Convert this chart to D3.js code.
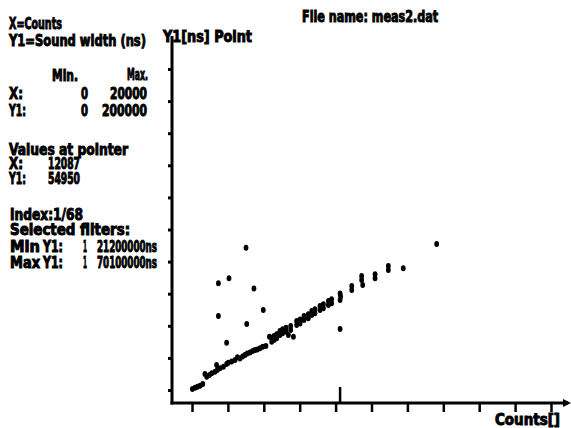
<!DOCTYPE html>
<html>
<head>
<meta charset="utf-8">
<script src="https://cdn.jsdelivr.net/npm/d3@7"></script>
<style>
  body { margin: 0; background: #fff; }
  text { font-family: "DejaVu Sans Condensed", "DejaVu Sans", sans-serif; font-weight: bold; fill: #000; stroke: #000; stroke-width: 0.9px; }
</style>
</head>
<body>
<div id="chart"></div>
<script>
// measured points: counts vs sound width (ns)
var counts = [20, 170, 300, 450, 600, 720, 820, 970, 1100, 1280, 1370, 1410, 1560, 1750, 1930, 2020,
  2210, 2400, 2530, 2670, 2820, 2950, 3080, 3230, 3380, 3510, 3640, 3790, 3940, 4120, 4310, 4440,
  4570, 4720, 4900, 5050, 5240, 5370, 5500, 5650, 5830, 6020, 6240, 6480, 6670, 6850, 7130, 7320,
  7600, 7780, 8250, 8280, 8900, 9450, 9510, 10200, 10940, 11770, 13630,
  4440, 4570, 4720, 4900, 5050, 5240, 5500, 5830, 6020, 6240, 6480, 6670, 6850, 7130, 7320, 7600,
  7780, 8250, 8900, 9450, 10200, 10940,
  1470, 2060, 3010, 3450, 1470, 3970, 3050, 1930, 8250];
var width = [600, 1450, 2100, 2700, 3700, 10000, 8300, 9300, 10400, 11400, 15600, 12500, 13500, 14500, 16200, 17000,
  17700, 18700, 20400, 19700, 20800, 21800, 22800, 23300, 24300, 24900, 25300, 26000, 27000, 27400, 33200, 30100,
  31200, 32200, 34300, 35300, 36300, 34300, 37400, 33200, 40500, 41500, 43600, 44700, 46700, 47800, 49800, 50900,
  53000, 54000, 56100, 58200, 62300, 68500, 65400, 69600, 74800, 75800, 91000,
  32600, 33700, 34700, 36800, 37800, 38800, 39900, 43000, 44000, 46100, 47200, 49200, 50300, 52300, 53400, 55500,
  56500, 60200, 64800, 71000, 72100, 77300,
  66500, 69600, 88700, 63300, 46100, 49800, 41100, 29500, 38000];
var xTicks = [0, 2000, 4000, 6000, 8000, 10000, 12000, 14000, 16000, 18000, 20000];
var yTicks = [0, 20000, 40000, 60000, 80000, 100000, 120000, 140000, 160000, 180000, 200000];
var pointerX = 8250;

// info panel lines: [text, x, baseline, width]
var infoLines = [
  ["X=Counts", 9, 29, 53],
  ["Y1=Sound width (ns)", 9, 46, 137],
  ["Min.", 52, 81, 26],
  ["Max.", 127, 80, 21],
  ["X:", 9, 99, 14],
  ["0", 81, 99, 7],
  ["20000", 110, 99, 37],
  ["Y1:", 9, 116, 17],
  ["0", 81, 116, 7],
  ["200000", 102, 116, 45],
  ["Values at pointer", 9, 155, 119],
  ["X:", 9, 169, 14],
  ["12087", 48, 169, 32],
  ["Y1:", 9, 184, 17],
  ["54950", 48, 184, 32],
  ["Index:1/68", 10, 220, 73],
  ["Selected filters:", 10, 235, 120],
  ["Min", 10, 252, 30],
  ["Y1:", 43, 252, 20],
  ["1", 83, 252, 4],
  ["21200000ns", 97, 252, 60],
  ["Max", 10, 268, 30],
  ["Y1:", 43, 268, 20],
  ["1", 83, 268, 4],
  ["70100000ns", 97, 268, 60],
  ["Y1[ns] Point", 163, 42, 89],
  ["File name: meas2.dat", 302, 22, 136],
  ["Counts[]", 495, 425, 65]
];

var W = 571, H = 428;
var svg = d3.select("#chart").append("svg")
  .attr("width", W)
  .attr("height", H);

var x = d3.scaleLinear().domain([0, 20000]).range([192, 551]);
var y = d3.scaleLinear().domain([0, 200000]).range([390, 69]);

var axisY0 = 403, axisX0 = 172;

// x axis ticks (no labels)
svg.append("g")
  .attr("transform", "translate(0," + axisY0 + ")")
  .call(d3.axisBottom(x).tickValues(xTicks).tickSize(9).tickSizeOuter(0).tickFormat(""))
  .call(function(g) {
    g.select(".domain").remove();
    g.selectAll(".tick line").attr("stroke", "#000").attr("stroke-width", 2.5);
  });

// y axis ticks
svg.append("g")
  .attr("transform", "translate(" + axisX0 + ",0)")
  .call(d3.axisLeft(y).tickValues(yTicks).tickSize(4).tickSizeOuter(0).tickFormat(""))
  .call(function(g) {
    g.select(".domain").remove();
    g.selectAll(".tick line").attr("stroke", "#000").attr("stroke-width", 3);
  });

// axis lines
svg.append("line")
  .attr("x1", axisX0).attr("y1", 36)
  .attr("x2", axisX0).attr("y2", axisY0 + 1.5)
  .attr("stroke", "#000").attr("stroke-width", 3);
svg.append("line")
  .attr("x1", axisX0 - 1.5).attr("y1", axisY0)
  .attr("x2", 568).attr("y2", axisY0)
  .attr("stroke", "#000").attr("stroke-width", 3);
svg.append("path")
  .attr("d", "M563,399 L571,403 L563,407 Z")
  .attr("fill", "#000");

// pointer mark
svg.append("line")
  .attr("x1", x(pointerX)).attr("y1", axisY0 - 16)
  .attr("x2", x(pointerX)).attr("y2", axisY0)
  .attr("stroke", "#000").attr("stroke-width", 2.5);

// points
svg.append("g").selectAll("ellipse")
  .data(d3.range(counts.length))
  .join("ellipse")
  .attr("cx", function(i) { return x(counts[i]); })
  .attr("cy", function(i) { return y(width[i]); })
  .attr("rx", 2.4)
  .attr("ry", 3)
  .attr("fill", "#000");

// texts
svg.append("g").selectAll("text")
  .data(infoLines)
  .join("text")
  .attr("x", function(d) { return d[1]; })
  .attr("y", function(d) { return d[2]; })
  .attr("textLength", function(d) { return d[3]; })
  .attr("lengthAdjust", "spacingAndGlyphs")
  .style("font-size", "15px")
  .text(function(d) { return d[0]; });
</script>
</body>
</html>
